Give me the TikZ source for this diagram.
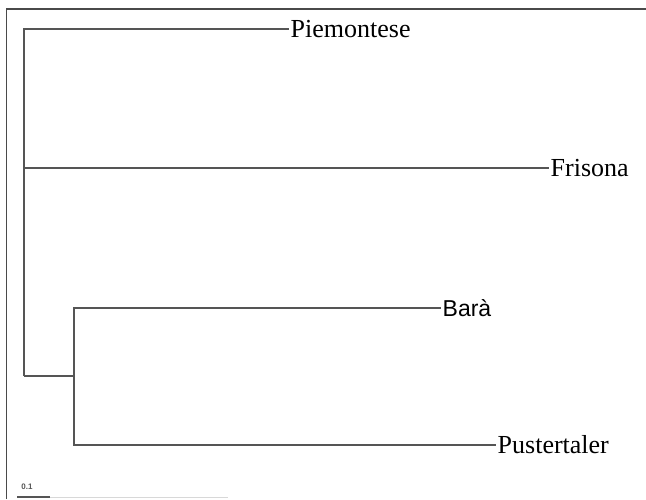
\documentclass[tikz,border=0pt]{standalone}
\usepackage{fontspec}
\setmainfont{Liberation Serif}
\newfontfamily\barafont{Liberation Sans}
\usetikzlibrary{positioning}
\definecolor{linegray}{HTML}{555555}
\definecolor{framegray}{HTML}{4A4A4A}
\definecolor{faintgray}{HTML}{D8D8D8}

\begin{document}
\begin{tikzpicture}[x=1pt,y=-1pt,
    tip/.style={anchor=west,inner sep=1.5pt,font=\fontsize{26}{29}\selectfont},
    branch/.style={draw=linegray,line width=1.3pt}]
        \useasboundingbox (0,0) rectangle (646,499);
        % frame
        \draw[framegray, line width=1.5pt] (6.5,499) -- (6.5,9) -- (646,9);
        % tips
        \node[tip] (piem) at (289,29) {Piemontese};
        \node[tip] (fris) at (549,168) {Frisona};
        \node[tip] (bara) at (441,308) {\barafont\fontsize{23}{26}\selectfont Barà};
        \node[tip] (pust) at (496,445) {Pustertaler};
        % internal nodes
        \coordinate (root) at (24,376);
        \coordinate (inner) at (74,376);
        \draw[branch] (root) |- (piem.west);
        \draw[branch] (root |- fris.west) -- (fris.west);
        \draw[branch] (root) -- (inner);
        \draw[branch] (inner) |- (bara.west);
        \draw[branch] (inner) |- (pust.west);
        % scale
        \node[font=\barafont\bfseries\fontsize{8}{9}\selectfont, text=linegray] (scl) at (27,487) {0.1};
        \coordinate (sa) at (17,497);
        \coordinate (sb) at (50,497);
        \coordinate (sc) at (228,497);
        \draw[faintgray, line width=1pt] (sb) -- (sc);
        \draw[linegray, line width=1.5pt] (sa) -- (sb);
    \end{tikzpicture}
\end{document}
